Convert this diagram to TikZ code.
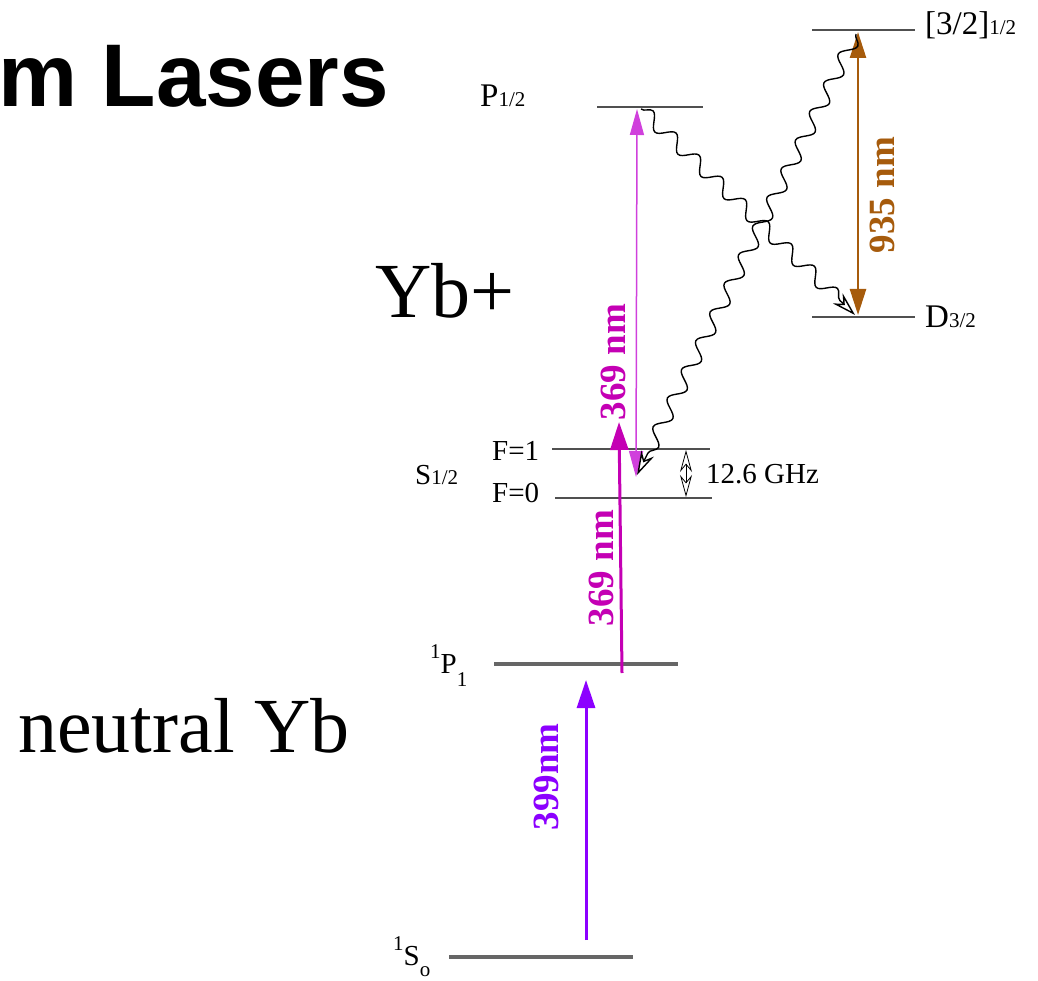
\documentclass[tikz,border=0pt]{standalone}
\usepackage{fontspec}
\setmainfont{Liberation Serif}
\newfontfamily\titlefont{Liberation Sans}
\usetikzlibrary{arrows.meta, positioning, decorations.pathmorphing}
\definecolor{clevel}{HTML}{505050}
\definecolor{cgrey}{HTML}{666666}
\definecolor{cviolet}{HTML}{8C00FF}
\definecolor{cmagenta}{HTML}{C400B4}
\definecolor{cpink}{HTML}{D040DC}
\definecolor{cbrown}{HTML}{A65B0C}
\tikzset{
  every picture/.style={x=1pt, y=-1pt},
  level/.style={draw=clevel, line width=2.2pt},
  ground/.style={draw=cgrey, line width=3.5pt},
  lab/.style={font=\fontsize{29}{29}\selectfont, inner sep=0pt},
  state/.style={font=\fontsize{33}{33}\selectfont, inner sep=0pt},
  big/.style={font=\fontsize{78}{78}\selectfont, inner sep=0pt},
  wave/.style={font=\fontsize{37}{37}\selectfont\bfseries, rotate=90, inner sep=0pt},
  laser/.style={-{Triangle[length=28pt, width=18pt]}, line width=3pt},
  decay/.style={decorate, decoration={snake, amplitude=7pt, segment length=32pt, post length=16pt},
    line width=1.4pt, -{Stealth[length=24pt, width=14pt, open]}},
}
\newcommand{\sm}[1]{{\fontsize{21}{21}\selectfont #1}}

\begin{document}
\begin{tikzpicture}
  \useasboundingbox (0,0) rectangle (1038,981);
  % titles
  \node[inner sep=0pt, anchor=base west, font=\titlefont\bfseries\fontsize{89}{89}\selectfont] (title) at (-2,107) {m Lasers};
  \node[big, anchor=base west] (ion) at (375,318) {Yb+};
  \node[big, anchor=base west] (atom) at (18,752) {neutral Yb};
  % levels of the ion
  \coordinate (p12w) at (597,107);  \coordinate (p12e) at (703,107);
  \coordinate (bkw) at (812,30);    \coordinate (bke) at (915,30);
  \coordinate (d32w) at (812,317);  \coordinate (d32e) at (915,317);
  \coordinate (f1w) at (552,449);   \coordinate (f1e) at (710,449);
  \coordinate (f0w) at (555,498);   \coordinate (f0e) at (712,498);
  \draw[level] (p12w) -- (p12e);
  \draw[level] (bkw) -- (bke);
  \draw[level] (d32w) -- (d32e);
  \draw[level] (f1w) -- (f1e);
  \draw[level] (f0w) -- (f0e);
  % levels of the atom
  \coordinate (p1w) at (494,664);   \coordinate (p1e) at (678,664);
  \coordinate (s0w) at (449,957);   \coordinate (s0e) at (633,957);
  \draw[ground] (p1w) -- (p1e);
  \draw[ground] (s0w) -- (s0e);
  % level labels
  \node[state, anchor=base west] (lp12) at (480,107) {P\sm{1/2}};
  \node[state, anchor=base west] (lbk) at (925,35) {[3/2]\sm{1/2}};
  \node[state, anchor=base west] (ld32) at (925,327) {D\sm{3/2}};
  \node[lab, anchor=base west] (ls12) at (415,484) {S\sm{1/2}};
  \node[lab, anchor=base west] (lf1) at (492,460) {F=1};
  \node[lab, anchor=base west] (lf0) at (492,502) {F=0};
  \node[lab, anchor=base west] (lghz) at (706,483) {12.6 GHz};
  \node[lab, anchor=base west] (lp1) at (430,673) {\raisebox{0.5em}{\sm{1}}P\raisebox{-0.45em}{\sm{1}}};
  \node[lab, anchor=base west] (ls0) at (393,965) {\raisebox{0.5em}{\sm{1}}S\raisebox{-0.4em}{\sm{o}}};
  % transitions
  \coordinate (v0) at (586,940);   \coordinate (v1) at (586,680);
  \coordinate (m0) at (622,673);   \coordinate (m1) at (619,422);
  \coordinate (u0) at (637,109);   \coordinate (u1) at (636,477);
  \coordinate (b0) at (858,32);    \coordinate (b1) at (858,315);
  \coordinate (g0) at (686,450);   \coordinate (g1) at (686,497);
  \draw[laser, cviolet] (v0) -- (v1);
  \draw[laser, cmagenta] (m0) -- (m1);
  \draw[cpink, line width=1.5pt, {Triangle[length=26pt, width=14pt]}-{Triangle[length=26pt, width=14pt]}] (u0) -- (u1);
  \draw[cbrown, line width=2.5pt, {Triangle[length=26pt, width=16pt]}-{Triangle[length=26pt, width=16pt]}] (b0) -- (b1);
  \draw[line width=0.8pt, {Stealth[length=22pt, width=12pt, open]}-{Stealth[length=22pt, width=12pt, open]}] (g0) -- (g1);
  % decays
  \coordinate (dp) at (641,109);   \coordinate (dd) at (855,315);
  \coordinate (db) at (856,34);    \coordinate (ds) at (637,475);
  \draw[decay] (dp) -- (dd);
  \draw[decay] (db) -- (ds);
  % wavelengths
  \node[wave, text=cviolet] (w399) at (546,777) {399nm};
  \node[wave, text=cmagenta] (w369a) at (601,568) {369 nm};
  \node[wave, text=cmagenta] (w369b) at (613,362) {369 nm};
  \node[wave, text=cbrown] (w935) at (882,195) {935 nm};
\end{tikzpicture}
\end{document}
